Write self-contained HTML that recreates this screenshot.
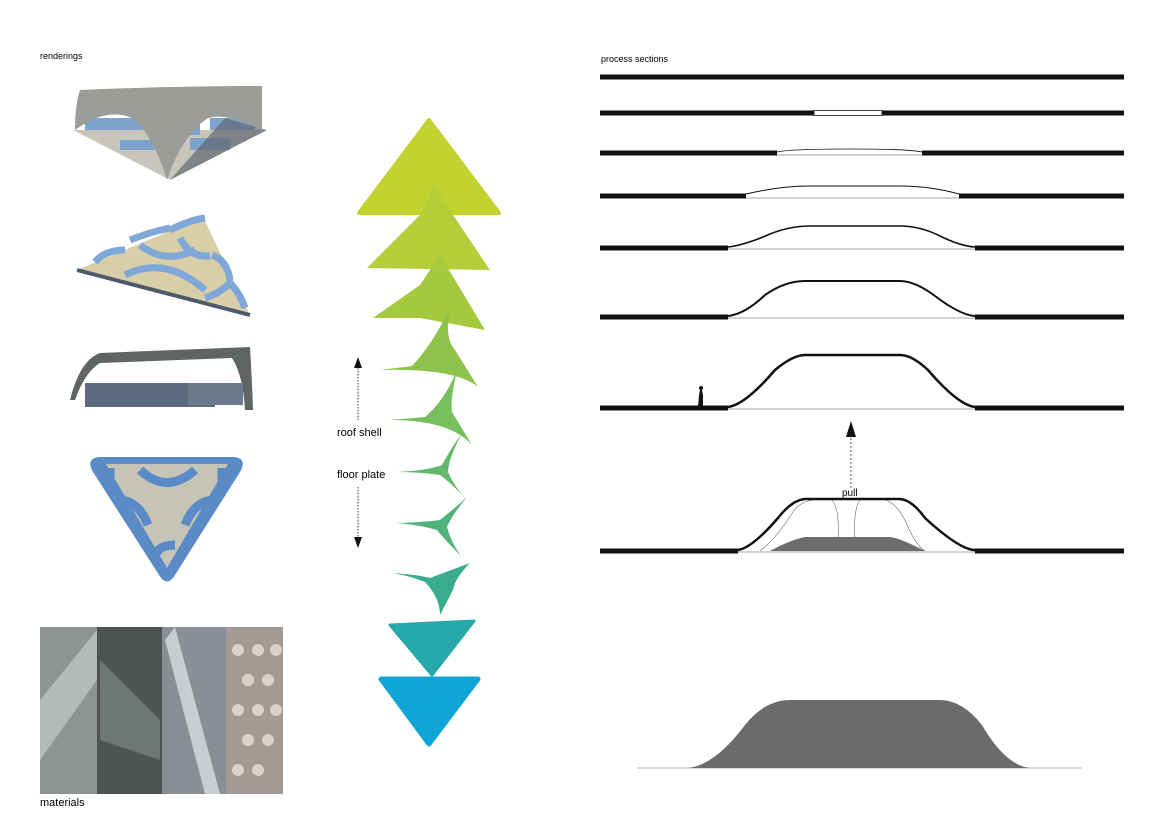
<!DOCTYPE html>
<html><head><meta charset="utf-8"><style>
body{margin:0;background:#fff;width:1170px;height:836px;overflow:hidden;font-family:"Liberation Sans",sans-serif}
svg{display:block}
</style></head><body>
<svg width="1170" height="836" viewBox="0 0 1170 836" xmlns="http://www.w3.org/2000/svg" font-family="Liberation Sans, sans-serif">
<text x="40" y="59" font-size="9">renderings</text>
<text x="601" y="62" font-size="9">process sections</text>
<text x="40" y="806" font-size="11">materials</text>

<!-- rendering 1 -->
<polygon points="73,130 267,130 170,180" fill="#c8c6bb"/>
<path d="M85,118 h60 v12 h-60z M150,120 h50 v15 h-50z M210,118 h45 v12 h-45z M120,140 h40 v10 h-40z M190,138 h40 v12 h-40z" fill="#7fa3cc"/>
<polygon points="170,180 267,130 225,118" fill="#5e6870" opacity="0.7"/>
<path d="M80,90 Q170,86 262,86 Q262,110 262,130 Q220,110 205,120 Q180,140 167,180 Q155,140 135,120 Q110,105 75,130 Q75,105 80,90Z" fill="#9a9d98"/>
<!-- rendering 2 -->
<polygon points="77,270 203,217 250,315" fill="#d8cfa8"/>
<path d="M77,270 L250,315" stroke="#4d5a6a" stroke-width="4"/>
<g stroke="#7fa8d8" stroke-width="7" fill="none">
<path d="M95,262 q10,-12 30,-12 M130,240 q20,-8 40,-12 M170,230 q20,-10 35,-12"/>
<path d="M140,245 q25,20 55,5"/>
<path d="M180,238 q10,20 30,18"/>
<path d="M125,275 q40,-20 80,15"/>
<path d="M212,255 q15,5 18,25"/>
<path d="M205,298 q15,-5 25,-15 q10,10 15,25"/>
</g>
<!-- rendering 3 -->
<path d="M70,400 Q80,360 100,353 L250,347 Q252,380 253,410 L245,410 Q243,375 232,358 L100,363 Q85,372 75,400 Z" fill="#5f6562"/>
<rect x="85" y="383" width="130" height="24" fill="#5b6a7c"/>
<rect x="188" y="383" width="55" height="22" fill="#6b7a8a"/>
<!-- rendering 4 -->
<path d="M100,457 L233,457 Q248,458 240,472 L175,575 Q167,588 159,575 L93,472 Q85,458 100,457Z" fill="#5a8bc7"/>
<path d="M106,464 L228,464 L167,568 Z" fill="#c6c4b6"/>
<g stroke="#5a8bc7" stroke-width="9" fill="none">
<path d="M140,470 q27,25 55,0"/>
<path d="M118,500 q20,0 30,25"/>
<path d="M215,500 q-20,0 -30,25"/>
<path d="M155,560 q0,-15 20,-15"/>
<path d="M110,468 v15 M222,468 v15"/>
</g>

<!-- materials -->
<rect x="40" y="627" width="57" height="167" fill="#8e9491"/>
<rect x="97" y="627" width="65" height="167" fill="#4c5350"/>
<rect x="162" y="627" width="64" height="167" fill="#8a8f95"/>
<rect x="226" y="627" width="57" height="167" fill="#a39a95"/>
<path d="M40,700 L97,630 L97,680 L40,760Z" fill="#b5bab6"/>
<path d="M100,660 L160,720 L160,760 L100,740Z" fill="#6f7774"/>
<path d="M175,627 L220,794 L205,794 L165,640Z" fill="#c9cdd2"/>
<g fill="#d7d0cb"><circle cx="238" cy="650" r="6"/><circle cx="258" cy="650" r="6"/><circle cx="276" cy="650" r="6"/><circle cx="248" cy="680" r="6"/><circle cx="268" cy="680" r="6"/><circle cx="238" cy="710" r="6"/><circle cx="258" cy="710" r="6"/><circle cx="276" cy="710" r="6"/><circle cx="248" cy="740" r="6"/><circle cx="268" cy="740" r="6"/><circle cx="238" cy="770" r="6"/><circle cx="258" cy="770" r="6"/></g>

<!-- middle shapes -->
<path d="M429,120 L499,213 L359,213 Z" fill="#c2d230" stroke="#c2d230" stroke-width="4" stroke-linejoin="round"/>
<path d="M433,185 Q430,200 420,215 L367,268 L490,270 Z" fill="#b4ce39"/>
<path d="M440,255 Q430,270 420,285 L373,318 L420,318 L485,330 Z" fill="#a4c93f"/>
<path d="M380,370 L412,366 Q432,345 450,308 Q444,338 455,350 L478,387 Q455,368 380,370 Z" fill="#8dc34a"/>
<path d="M390,420 L425,417 Q445,400 457,370 Q450,400 452,412 L472,445 Q450,420 390,420 Z" fill="#76bf5c"/>
<path d="M397,472 Q430,470 442,465 Q450,450 462,433 Q448,460 448,472 Q455,488 467,500 Q450,482 440,475 Q420,472 397,472 Z" fill="#62b86c"/>
<path d="M397,523 Q425,522 440,520 Q455,508 467,497 Q452,515 447,527 Q452,545 462,557 Q445,540 437,530 Q420,525 397,523 Z" fill="#50b37c"/>
<path d="M393,573 Q420,575 430,578 L470,563 Q455,578 453,590 L440,615 Q440,598 425,582 Q410,576 393,573 Z" fill="#3aad90"/>
<path d="M390,625 L474,621 L432,675 Z" fill="#27a9ab" stroke="#27a9ab" stroke-width="3" stroke-linejoin="round"/>
<path d="M381,679 L478,679 L429,744 Z" fill="#11a4d6" stroke="#11a4d6" stroke-width="5" stroke-linejoin="round"/>

<line x1="358" y1="365" x2="358" y2="420" stroke="#333" stroke-dasharray="1.5,1.5"/>
<polygon points="358,357 354,368 362,368" fill="#111"/>
<line x1="358" y1="487" x2="358" y2="538" stroke="#333" stroke-dasharray="1.5,1.5"/>
<polygon points="358,548 354,537 362,537" fill="#111"/>
<text x="337" y="436" font-size="11">roof shell</text>
<text x="337" y="478" font-size="11">floor plate</text>

<!-- sections -->
<g stroke="#111" fill="none">
<line x1="600" y1="77" x2="1124" y2="77" stroke-width="5"/>
<line x1="600" y1="113" x2="814" y2="113" stroke-width="5"/><line x1="882" y1="113" x2="1124" y2="113" stroke-width="5"/>
<rect x="814" y="110.5" width="68" height="5" stroke-width="0.8"/>
<line x1="600" y1="153" x2="777" y2="153" stroke-width="5"/><line x1="922" y1="153" x2="1124" y2="153" stroke-width="5"/>
<path d="M777,152 Q790,149 850,149 Q910,149 922,152" stroke-width="0.8"/><line x1="777" y1="155" x2="922" y2="155" stroke-width="0.8" stroke="#888"/>
<line x1="600" y1="196" x2="746" y2="196" stroke-width="5"/><line x1="959" y1="196" x2="1124" y2="196" stroke-width="5"/>
<path d="M746,194 Q780,186 810,186 L900,186 Q930,186 959,194" stroke-width="1"/><line x1="746" y1="198" x2="959" y2="198" stroke-width="0.8" stroke="#888"/>
<line x1="600" y1="248" x2="728" y2="248" stroke-width="5"/><line x1="975" y1="248" x2="1124" y2="248" stroke-width="5"/>
<path d="M728,247 Q745,245 770,234 Q790,226 810,226 L900,226 Q920,226 940,236 Q960,246 975,247" stroke-width="1.6"/><line x1="728" y1="249" x2="975" y2="249" stroke-width="0.7" stroke="#888"/>
<line x1="600" y1="317" x2="728" y2="317" stroke-width="5"/><line x1="975" y1="317" x2="1124" y2="317" stroke-width="5"/>
<path d="M728,316 Q745,314 765,295 Q785,281 805,281 L900,281 Q915,281 935,296 Q960,315 975,316" stroke-width="2"/><line x1="728" y1="318" x2="975" y2="318" stroke-width="0.7" stroke="#888"/>
<line x1="600" y1="408" x2="728" y2="408" stroke-width="5"/><line x1="975" y1="408" x2="1124" y2="408" stroke-width="5"/>
<path d="M728,407 Q745,405 775,370 Q793,355 805,355 L900,355 Q912,355 928,370 Q958,405 975,407" stroke-width="2.5"/><line x1="728" y1="409" x2="975" y2="409" stroke-width="0.7" stroke="#888"/>
<line x1="851" y1="430" x2="851" y2="488" stroke="#333" stroke-width="0.8" stroke-dasharray="2,2"/>
<line x1="600" y1="551" x2="738" y2="551" stroke-width="5"/><line x1="975" y1="551" x2="1124" y2="551" stroke-width="5"/>
<path d="M738,550 Q752,548 778,518 Q792,500 805,499 L900,499 Q912,500 925,518 Q960,550 975,550" stroke-width="2.5"/>
<path d="M760,551 Q775,540 793,512 Q800,501 815,500 M925,551 Q915,545 905,520 Q895,502 885,500 M838,540 Q840,510 832,500 M855,540 Q853,510 860,500" stroke-width="0.6" stroke="#666"/>
<line x1="738" y1="552" x2="975" y2="552" stroke-width="0.7" stroke="#888"/>
</g>
<path d="M770,551 Q790,540 805,537 L890,537 Q900,538 925,551 Z" fill="#6d6d6d"/>
<polygon points="851,421 846,437 856,437" fill="#111"/>
<text x="842" y="496" font-size="10">pull</text>
<path d="M698,407 L699,395 L700,390 L702,390 L703,395 L703,407Z" fill="#111"/><circle cx="701" cy="388" r="2" fill="#111"/>

<!-- bottom mound -->
<line x1="637" y1="768" x2="1082" y2="768" stroke="#999" stroke-width="0.8"/>
<path d="M688,768 Q715,765 745,725 Q765,700 790,700 L940,700 Q962,700 982,725 Q1005,765 1030,768 Z" fill="#6b6b6b"/>
</svg>
</body></html>
